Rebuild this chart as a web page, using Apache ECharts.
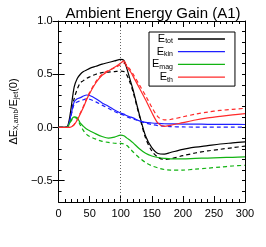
<!DOCTYPE html>
<html><head><meta charset="utf-8">
<script src="https://cdn.jsdelivr.net/npm/echarts@6/dist/echarts.min.js"></script>
<style>html,body{margin:0;padding:0;background:#fff}#c{width:266px;height:247px}</style>
</head><body><div id="c"></div>
<script>
const time = [0,10,15,20,25,30,35,40,45,50,60,70,80,90,100,105,110,115,120,130,140,150,160,170,180,200,220,240,260,280,300];
const totSolid = [0,0,0.02,0.18,0.38,0.46,0.5,0.525,0.54,0.555,0.575,0.595,0.61,0.625,0.64,0.63,0.55,0.45,0.35,0.12,-0.08,-0.19,-0.245,-0.25,-0.235,-0.205,-0.185,-0.17,-0.155,-0.145,-0.135];
const totDash = [0,0,0.01,0.12,0.27,0.36,0.42,0.44,0.46,0.475,0.5,0.515,0.52,0.525,0.53,0.525,0.49,0.42,0.33,0.11,-0.1,-0.22,-0.28,-0.3,-0.295,-0.265,-0.24,-0.22,-0.205,-0.19,-0.175];
const kinSolid = [0,0,0.01,0.12,0.24,0.27,0.28,0.295,0.305,0.3,0.27,0.23,0.2,0.165,0.135,0.125,0.11,0.1,0.09,0.062,0.048,0.042,0.038,0.035,0.034,0.032,0.031,0.03,0.029,0.029,0.028];
const kinDash = [0,0,0.01,0.11,0.22,0.24,0.25,0.26,0.27,0.265,0.24,0.21,0.18,0.15,0.125,0.115,0.1,0.09,0.08,0.06,0.042,0.028,0.018,0.012,0.008,0.005,0.004,0.003,0.003,0.003,0.003];
const magSolid = [0,0,0.01,0.07,0.1,0.09,0.04,0.01,-0.015,-0.03,-0.06,-0.085,-0.1,-0.09,-0.072,-0.078,-0.1,-0.12,-0.145,-0.2,-0.243,-0.268,-0.282,-0.29,-0.295,-0.295,-0.29,-0.287,-0.283,-0.28,-0.277];
const magDash = [0,0,0.01,0.06,0.095,0.08,0.02,-0.03,-0.065,-0.085,-0.11,-0.13,-0.14,-0.148,-0.15,-0.155,-0.17,-0.2,-0.23,-0.285,-0.33,-0.36,-0.38,-0.395,-0.4,-0.4,-0.392,-0.382,-0.372,-0.362,-0.355];
const thSolid = [0,0,0,0.005,0.025,0.07,0.13,0.19,0.26,0.32,0.42,0.49,0.53,0.565,0.605,0.625,0.57,0.53,0.48,0.37,0.26,0.14,0.04,0.01,0.02,0.045,0.07,0.09,0.105,0.118,0.13];
const thDash = [0,0,0,0.005,0.03,0.075,0.135,0.2,0.27,0.33,0.43,0.5,0.535,0.56,0.59,0.605,0.58,0.545,0.5,0.4,0.3,0.19,0.1,0.072,0.075,0.1,0.125,0.145,0.16,0.17,0.18];
const xTicks = [0,50,100,150,200,250,300];
const yTicks = [-0.5,0.0,0.5,1.0];
const legendNames = ['tot','kin','mag','th'];
const colors = {tot:'#000000', kin:'#1f1fff', mag:'#12b312', th:'#ff2a2a'};
const marker = 100;

const FONT = 'Liberation Sans, Arial, sans-serif';
const pairs = arr => time.map((t,i)=>[t,arr[i]]);
const mk = (name, arr, key, dashed) => ({
  name, type:'line', data: pairs(arr), showSymbol:false, symbol:'none', smooth:0.3,
  xAxisIndex:0, yAxisIndex:0,
  lineStyle:{color:colors[key], width:1.2, type: dashed ? [4,3] : 'solid'},
  itemStyle:{color:colors[key]}, z: dashed?2:3, animation:false
});
const series = [
  mk('tot', totSolid, 'tot', false), mk('tot_d', totDash, 'tot', true),
  mk('kin', kinSolid, 'kin', false), mk('kin_d', kinDash, 'kin', true),
  mk('mag', magSolid, 'mag', false), mk('mag_d', magDash, 'mag', true),
  mk('th', thSolid, 'th', false), mk('th_d', thDash, 'th', true)
];
series[0].markLine = {silent:true, symbol:'none', label:{show:false},
  lineStyle:{color:'#666', type:[1,2], width:1}, data:[{xAxis: marker}], animation:false};

const fmtY = v => {
  const r = Math.round(v*10);
  if (r % 5 !== 0) return '';
  return (r/10).toFixed(1).replace('-', '\u2212');
};
const grid = {left:53, right:21, top:21, bottom:45};
const baseX = (pos, labels) => ({
  type:'value', min:0, max:300, interval:50, position:pos,
  axisLine:{show:true, onZero:false, lineStyle:{color:'#000', width:1}},
  axisTick:{show:true, inside:true, length:6, lineStyle:{color:'#000'}},
  minorTick:{show:true, splitNumber:5, length:3, lineStyle:{color:'#000'}},
  splitLine:{show:false},
  axisLabel:{show:labels, color:'#000', fontSize:11, fontFamily:FONT, margin:6,
    customValues: xTicks},
});
const minorY = (pos, labels) => ({
  type:'value', min:-0.7, max:1.0, interval:0.1, position:pos,
  axisLine:{show:true, onZero:false, lineStyle:{color:'#000', width:1}},
  axisTick:{show:true, inside:true, length:3, lineStyle:{color:'#000'}},
  splitLine:{show:false},
  axisLabel:{show:labels, color:'#000', fontSize:11, fontFamily:FONT, margin:6,
    formatter: fmtY, showMinLabel:true, showMaxLabel:true, hideOverlap:false, interval:0}
});
const majorY = (pos) => ({
  type:'value', min:-0.7, max:1.0, position:pos,
  axisLine:{show:false},
  axisTick:{show:true, inside:true, length:6, customValues: yTicks, lineStyle:{color:'#000'}},
  splitLine:{show:false},
  axisLabel:{show:false}
});
const yMain = minorY('left', true);
yMain.name = '{a|\u0394E}{s|X,amb}{a|/E}{s|jet}{a|(0)}';
yMain.nameLocation = 'middle';
yMain.nameGap = 34;
yMain.nameRotate = 90;
yMain.nameTextStyle = {rich:{
  a:{fontSize:11, fontFamily:FONT, color:'#000'},
  s:{fontSize:7, fontFamily:FONT, color:'#000', padding:[6,0,0,0]}
}};

const option = {
  animation:false,
  backgroundColor:'#fff',
  title:{text:'Ambient Energy Gain (A1)', left:148, textAlign:'center', top:1,
    textStyle:{fontSize:15, fontWeight:'normal', fontFamily:FONT, color:'#000'}},
  grid,
  xAxis:[baseX('bottom', true), baseX('top', false)],
  yAxis:[yMain, majorY('left'), minorY('right', false), majorY('right')],
  legend:{
    data: legendNames.map(n => ({name:n, icon:'rect'})),
    orient:'vertical', left:149, top:32, align:'right',
    borderColor:'#000', borderWidth:1, padding:[1,10,3,3], itemGap:0.7,
    itemWidth:47, itemHeight:1.3, selectedMode:false,
    formatter: n => '{e|E}{s|' + n + '}',
    textStyle:{width:22, align:'right', color:'#000', fontFamily:FONT,
      rich:{e:{fontSize:11, fontFamily:FONT, color:'#000', lineHeight:12},
            s:{fontSize:7, fontFamily:FONT, color:'#000', padding:[5,0,0,0], lineHeight:12}}}
  },
  series
};
const chart = echarts.init(document.getElementById('c'), null, {renderer:'canvas'});
chart.setOption(option);
</script></body></html>
